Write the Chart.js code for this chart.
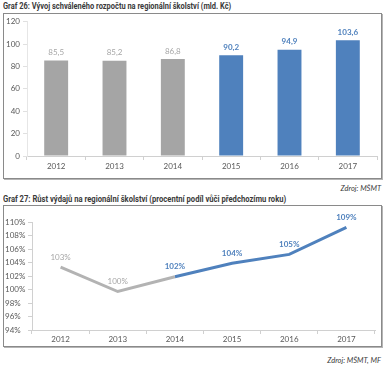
<!DOCTYPE html>
<html>
<head>
<meta charset="utf-8">
<script src="https://cdn.jsdelivr.net/npm/chart.js@4.4.0/dist/chart.umd.min.js"></script>
<style>
  body { margin: 0; background: #fff; width: 386px; height: 367px; position: relative; overflow: hidden; }
  .title { position: absolute; left: 3px; font: bold 8.5px Roboto, "Liberation Sans", sans-serif; color: #3a3a3a; white-space: nowrap; transform-origin: 0 50%; }
  .box { position: absolute; left: 3px; width: 377px; border: 1px solid #8a8a8a; box-shadow: 1px 1px 0 #b5b5b5; background: #fff; }
  .src { position: absolute; right: 5px; font: italic 7.5px Lato, "Open Sans", sans-serif; color: #3a3a3a; }
</style>
</head>
<body>
<div class="title" id="t1" style="top:1px">Graf 26: Vývoj schváleného rozpočtu na regionální školství (mld. Kč)</div>
<div class="box" style="top:13px;height:164px"><canvas id="budgetChart" width="377" height="164"></canvas></div>
<div class="src" style="top:184px">Zdroj: MŠMT</div>

<div class="title" id="t2" style="top:194px">Graf 27: Růst výdajů na regionální školství (procentní podíl vůči předchozímu roku)</div>
<div class="box" style="top:205px;height:140px"><canvas id="growthChart" width="377" height="140"></canvas></div>
<div class="src" style="top:356px">Zdroj: MŠMT, MF</div>

<script>
// data
const years = ['2012', '2013', '2014', '2015', '2016', '2017'];
const budget = [85.5, 85.2, 86.8, 90.2, 94.9, 103.6];
const growth = [103.3, 99.7, 101.9, 103.9, 105.2, 109.2];
const growthLabels = ['103%', '100%', '102%', '104%', '105%', '109%'];
const firstBlueBar = 3;    // od 2015 modře
const firstBlueLine = 2;   // čára modrá od 2014

const grey = '#a5a5a5';
const blue = '#4f81bd';
const tickFont = { family: 'Lato, "Open Sans", sans-serif', size: 8 };

// zúžit titulky na šířku jako v originálu
function fitTitle(id, w) {
    const el = document.getElementById(id);
    el.style.transform = 'scaleX(' + (w / el.offsetWidth) + ')';
}
fitTitle('t1', 228);
fitTitle('t2', 283);

// popisky hodnot nad body
const valueLabels = {
    id: 'valueLabels',
    afterDatasetsDraw(chart, args, opts) {
        const ctx = chart.ctx;
        ctx.save();
        ctx.textAlign = 'center';
        ctx.textBaseline = 'middle';
        opts.texts.forEach((txt, i) => {
            // vzít dataset, který má v tomto roce hodnotu
            const dsIndex = chart.data.datasets.findIndex(ds => ds.data[i] != null);
            const el = chart.getDatasetMeta(dsIndex).data[i];
            const isBlue = i >= opts.blueFrom;
            ctx.fillStyle = isBlue ? blue : '#a6a6a6';
            ctx.font = (opts.boldBlue && isBlue ? 'bold ' : '') + '8px Lato, "Open Sans", sans-serif';
            ctx.fillText(txt, el.x, el.y - opts.offset);
        });
        ctx.restore();
    }
};

new Chart(document.getElementById('budgetChart').getContext('2d'), {
    type: 'bar',
    data: {
        labels: years,
        datasets: [{
            data: budget,
            backgroundColor: budget.map((v, i) => i >= firstBlueBar ? blue : grey),
            barPercentage: 0.41,
            categoryPercentage: 1
        }]
    },
    options: {
        responsive: false,
        animation: false,
        layout: { padding: { left: 0, right: 4, top: 6, bottom: 0 } },
        plugins: {
            legend: { display: false },
            tooltip: { enabled: false },
            valueLabels: {
                texts: budget.map(v => v.toFixed(1).replace('.', ',')),
                blueFrom: firstBlueBar,
                boldBlue: true,
                offset: 8
            }
        },
        scales: {
            x: {
                grid: { drawOnChartArea: false, color: '#d0d0d0', tickLength: 4 },
                border: { color: '#d0d0d0' },
                ticks: { color: '#595959', font: tickFont, padding: 2 },
                afterFit: s => { s.height = 22; }
            },
            y: {
                min: 0, max: 120,
                ticks: { stepSize: 20, color: '#595959', font: tickFont, padding: 3 },
                grid: { drawOnChartArea: false, color: '#e0e0e0', tickLength: 4 },
                border: { color: '#e6e6e6' },
                afterFit: s => { s.width = 23; }
            }
        }
    },
    plugins: [valueLabels]
});

new Chart(document.getElementById('growthChart').getContext('2d'), {
    type: 'line',
    data: {
        labels: years,
        datasets: [{
            data: growth.map((v, i) => i <= firstBlueLine ? v : null),
            borderColor: '#b3b3b3',
            borderWidth: 3,
            pointRadius: 0
        }, {
            data: growth.map((v, i) => i >= firstBlueLine ? v : null),
            borderColor: blue,
            borderWidth: 3,
            pointRadius: 0
        }]
    },
    options: {
        responsive: false,
        animation: false,
        layout: { padding: { left: 1, right: 6, top: 16, bottom: 0 } },
        plugins: {
            legend: { display: false },
            tooltip: { enabled: false },
            valueLabels: {
                texts: growthLabels,
                blueFrom: firstBlueLine,
                boldBlue: true,
                offset: 10
            }
        },
        scales: {
            x: {
                offset: true,
                grid: { drawOnChartArea: false, offset: true, color: '#d0d0d0', tickLength: 4 },
                border: { color: '#d0d0d0' },
                ticks: { color: '#595959', font: tickFont, padding: 1 },
                afterFit: s => { s.height = 16; }
            },
            y: {
                min: 94, max: 110,
                ticks: { stepSize: 2, color: '#595959', font: tickFont, crossAlign: 'far', callback: v => v + '%' },
                grid: { drawOnChartArea: false, color: '#d0d0d0', tickLength: 4 },
                border: { color: '#d0d0d0' },
                afterFit: s => { s.width = 27; }
            }
        }
    },
    plugins: [valueLabels]
});
</script>
</body>
</html>
